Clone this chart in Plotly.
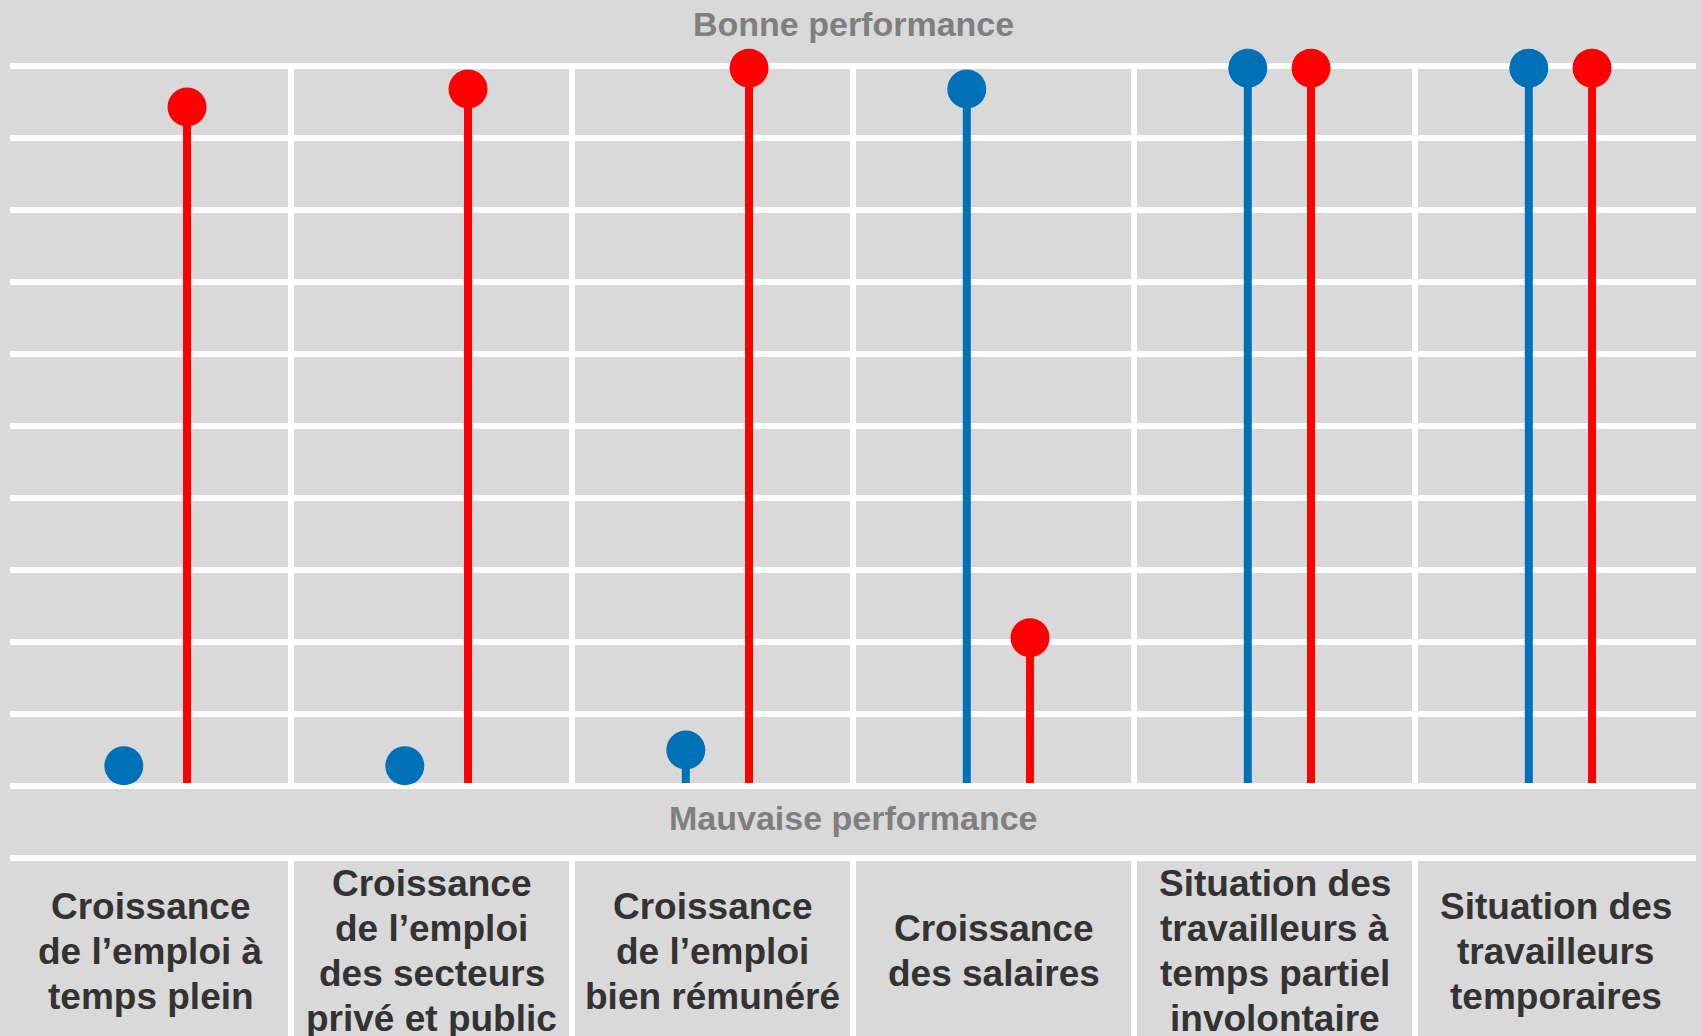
import plotly.graph_objects as go

# ---------------- data ----------------
categories = [
    "Croissance<br>de l’emploi à<br>temps plein",
    "Croissance<br>de l’emploi<br>des secteurs<br>privé et public",
    "Croissance<br>de l’emploi<br>bien rémunéré",
    "Croissance<br>des salaires",
    "Situation des<br>travailleurs à<br>temps partiel<br>involontaire",
    "Situation des<br>travailleurs<br>temporaires",
]
serie_bleue = [0.28, 0.28, 0.5, 9.68, 9.97, 9.97]
serie_rouge = [9.43, 9.68, 9.97, 2.06, 9.97, 9.97]
y_ticks = [0, 1, 2, 3, 4, 5, 6, 7, 8, 9, 10]
label_haut = "Bonne performance"
label_bas = "Mauvaise performance"

# ---------------- layout constants ----------------
W, H = 1702, 1036
PX_TOP, PX_BOTTOM = 66, 786          # pixel rows of y=10 and y=0
UNIT = (PX_BOTTOM - PX_TOP) / 10.0   # pixels per y unit
Y_MAX = PX_BOTTOM / UNIT
Y_MIN = -(H - PX_BOTTOM) / UNIT
BAND_LINE = -1                       # line under "Mauvaise performance"
GRID_W = 6
STEM_BASE = (GRID_W / 2) / UNIT      # stems start at the top edge of the base line

BLUE = "#0071B7"
RED = "#FF0000"
BG = "#D9D9D9"
TXT = "#333333"
GREY = "#7F7F7F"
FONT = "Arial, 'Liberation Sans', sans-serif"

OFF_BLUE, OFF_RED = -0.095, 0.13
n = len(categories)
idx = list(range(n))
xb = [i + OFF_BLUE for i in idx]
xr = [i + OFF_RED for i in idx]


def stems(xs, vals):
    sx, sy = [], []
    for x, v in zip(xs, vals):
        sx += [x, x, None]
        sy += [STEM_BASE, v, None]
    return sx, sy


fig = go.Figure()
for xs, vals, col in [(xb, serie_bleue, BLUE), (xr, serie_rouge, RED)]:
    sx, sy = stems(xs, vals)
    fig.add_trace(go.Scatter(x=sx, y=sy, mode="lines",
                             line=dict(color=col, width=8),
                             hoverinfo="skip", showlegend=False))
    fig.add_trace(go.Scatter(x=xs, y=vals, mode="markers",
                             marker=dict(color=col, size=39, line=dict(width=0)),
                             showlegend=False))

shapes = []
for i in range(n - 1):
    xv = i + 0.5
    shapes.append(dict(type="line", xref="x", yref="y", x0=xv, x1=xv, y0=0, y1=10,
                       line=dict(color="white", width=GRID_W), layer="below"))
    shapes.append(dict(type="line", xref="x", yref="y", x0=xv, x1=xv, y0=Y_MIN, y1=BAND_LINE,
                       line=dict(color="white", width=GRID_W), layer="below"))

annotations = [
    dict(x=(n - 1) / 2, y=(PX_BOTTOM - 24) / UNIT, xref="x", yref="y", text=label_haut,
         showarrow=False, xanchor="center", yanchor="middle",
         font=dict(family=FONT, size=34, color=GREY, weight=700)),
    dict(x=(n - 1) / 2, y=(PX_BOTTOM - 818) / UNIT, xref="x", yref="y", text=label_bas,
         showarrow=False, xanchor="center", yanchor="middle",
         font=dict(family=FONT, size=34, color=GREY, weight=700)),
]
LABEL_CENTER = (PX_BOTTOM - 951) / UNIT
PITCH = 45 / UNIT
for i, lab in enumerate(categories):
    lines = lab.split("<br>")
    m = len(lines)
    for k, line in enumerate(lines):
        annotations.append(dict(
            x=i, y=LABEL_CENTER - (k - (m - 1) / 2) * PITCH, xref="x", yref="y",
            text=line, showarrow=False, xanchor="center", yanchor="middle",
            font=dict(family=FONT, size=37, color=TXT, weight=700)))

fig.update_layout(
    width=W, height=H,
    margin=dict(l=10, r=6, t=0, b=0, pad=0),
    paper_bgcolor=BG, plot_bgcolor=BG,
    showlegend=False,
    shapes=shapes, annotations=annotations,
    xaxis=dict(range=[-0.5, n - 0.5], showgrid=False, zeroline=False,
               showticklabels=False, ticks="", fixedrange=True),
    yaxis=dict(range=[Y_MIN, Y_MAX], tickmode="array", tickvals=[BAND_LINE] + y_ticks,
               showgrid=True, gridcolor="white", gridwidth=GRID_W, zeroline=False,
               showticklabels=False, ticks="", fixedrange=True),
)

fig.write_html("out.html", config={"displayModeBar": False},
               post_script="document.body.style.margin='0';")
